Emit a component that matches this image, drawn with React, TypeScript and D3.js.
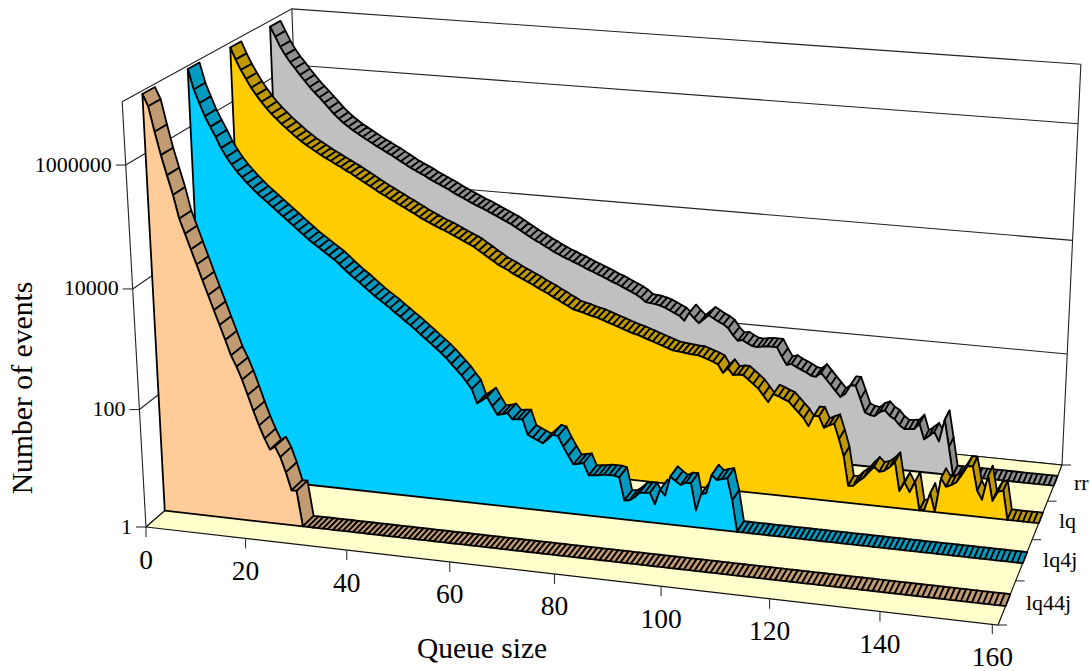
import React from 'react';
import * as d3 from 'd3';

// log10(events), one entry per queue size starting at 0
const lq44jLog = [6.95,6.76,6.36,5.99,5.67,5.36,4.98,4.74,4.49,4.25,4.0,3.76,3.52,3.28,3.04,2.79,2.61,2.4,2.15,1.89,1.65,1.44,1.26,1.32,1.15,.9,.6,.6,0];
const lq4jLog = [6.95,6.62,6.40,6.19,6.02,5.86,5.68,5.54,5.42,5.31,5.22,5.13,5.05,4.97,4.90,4.83,4.76,4.69,4.62,4.55,4.48,4.41,4.34,4.27,4.21,4.15,4.09,4.03,3.97,3.90,3.82,3.75,3.68,3.62,3.55,3.48,3.41,3.35,3.29,3.23,3.16,3.10,3.03,2.97,2.90,2.83,2.76,2.69,2.62,2.55,2.47,2.38,2.29,2.20,2.09,1.98,1.74,1.80,1.87,1.72,1.58,1.60,1.63,1.53,1.54,1.55,1.29,1.25,1.21,1.17,1.25,1.34,1.32,1.15,1.0,.86,.88,.9,.7,.71,.72,.74,.74,.74,.72,.33,.34,.4,.49,.5,.51,.32,.58,.49,.83,.76,.7,.75,.75,.29,.58,.61,.93,.85,.88,.9,.53,0];
const lqLog = [6.92,6.72,6.55,6.40,6.26,6.14,6.03,5.93,5.84,5.76,5.68,5.61,5.54,5.47,5.41,5.35,5.30,5.25,5.20,5.15,5.11,5.06,5.02,4.97,4.93,4.88,4.83,4.78,4.73,4.68,4.63,4.59,4.54,4.50,4.45,4.41,4.36,4.32,4.27,4.23,4.19,4.15,4.11,4.08,4.04,4.00,3.96,3.92,3.88,3.84,3.78,3.73,3.67,3.62,3.56,3.52,3.48,3.43,3.39,3.35,3.31,3.27,3.22,3.18,3.14,3.09,3.05,3.00,2.96,2.91,2.89,2.87,2.84,2.82,2.80,2.77,2.74,2.71,2.68,2.65,2.62,2.59,2.57,2.54,2.51,2.48,2.45,2.42,2.39,2.36,2.35,2.34,2.33,2.32,2.32,2.29,2.26,2.23,2.19,2.05,2.14,2.03,2.05,2.05,1.98,1.91,1.84,1.73,1.62,1.77,1.74,1.70,1.67,1.58,1.49,1.40,1.27,1.46,1.46,1.27,1.32,1.36,1.1,.81,.3,.31,.4,.47,.58,.68,.6,.63,.7,.8,.3,.46,.3,.49,0,.03,.32,0,.6,.46,.5,.56,.7,.86,.86,.45,.3,.73,.3,.47,.5,0];
const rrLog = [6.90,6.73,6.56,6.42,6.30,6.20,6.09,5.99,5.89,5.80,5.72,5.63,5.54,5.45,5.37,5.30,5.24,5.18,5.13,5.08,5.03,4.98,4.93,4.89,4.84,4.80,4.75,4.70,4.65,4.60,4.56,4.52,4.48,4.43,4.39,4.35,4.31,4.27,4.22,4.18,4.14,4.10,4.06,4.02,3.99,3.95,3.91,3.87,3.83,3.79,3.75,3.70,3.65,3.60,3.55,3.50,3.46,3.41,3.37,3.32,3.28,3.24,3.21,3.17,3.14,3.10,3.06,3.03,2.99,2.96,2.92,2.88,2.85,2.81,2.77,2.73,2.69,2.64,2.57,2.56,2.55,2.53,2.50,2.46,2.42,2.38,2.30,2.45,2.36,2.28,2.36,2.44,2.39,2.34,2.30,2.24,2.12,2.03,2.05,2.00,1.96,1.95,1.97,1.98,1.98,1.98,1.82,1.68,1.71,1.66,1.62,1.58,1.53,1.52,1.60,1.50,1.40,1.30,1.20,1.27,1.43,1.43,1.20,.97,.93,.92,1.0,1.04,.95,.90,.80,.74,.75,.76,.86,.59,.66,.74,.58,.98,.50,0];

const seriesNames = ['lq44j', 'lq4j', 'lq', 'rr'];
const seriesLogs = [lq44jLog, lq4jLog, lqLog, rrLog];
const faceColors = ['#FFCC99', '#00CCFF', '#FFCC00', '#C0C0C0'];
const ribbonColors = ['#C09A70', '#0099BF', '#BF9900', '#8F8F8F'];

const xTicks = [0, 20, 40, 60, 80, 100, 120, 140, 160];
const yTicks = [1, 100, 10000, 1000000];
const wallLevels = [1, 100, 10000, 1000000, 10000000];

const xMax = 161;
const xScale = d3.scaleLinear().domain([0, xMax]).range([0, 1]);
const hScale = d3.scaleLog().domain([1, 1e7]).range([0, 1]);
const zBand = d3.scaleBand().domain(seriesNames).range([0, 1]).paddingInner(0).paddingOuter(0);
const ribbonStart = 0.105;
const ribbonDepth = 0.068;

// box corners on screen, used to fit the perspective
const floorA = [146, 527], floorB = [998, 625], floorC = [1062, 465], floorD = [306, 388];
const topE = [123, 104], topF = [291, 10], topG = [1081, 61];

function fitProjection() {
  const [x0, y0] = floorA, [x1, y1] = floorB, [x2, y2] = floorC, [x3, y3] = floorD;
  const dx1 = x1 - x2, dx2 = x3 - x2, sx = x0 - x1 + x2 - x3;
  const dy1 = y1 - y2, dy2 = y3 - y2, sy = y0 - y1 + y2 - y3;
  const den = dx1 * dy2 - dx2 * dy1;
  const g = (sx * dy2 - dx2 * sy) / den;
  const h = (dx1 * sy - sx * dy1) / den;
  const a = x1 - x0 + g * x1, b = x3 - x0 + h * x3, c = x0;
  const d = y1 - y0 + g * y1, e = y3 - y0 + h * y3, f = y0;

  // height column by least squares on the three top corners
  const rows: number[][] = [];
  const rhs: number[] = [];
  ([[0, 0, topE], [0, 1, topF], [1, 1, topG]] as any[]).forEach(([u, v, p]) => {
    const w0 = g * u + h * v + 1;
    rows.push([1, 0, -p[0]]); rhs.push(p[0] * w0 - (a * u + b * v + c));
    rows.push([0, 1, -p[1]]); rhs.push(p[1] * w0 - (d * u + e * v + f));
  });
  const m = [0, 1, 2].map(i => [0, 1, 2].map(j => d3.sum(rows, r => r[i] * r[j])));
  const n = [0, 1, 2].map(i => d3.sum(rows, (r, k) => r[i] * rhs[k]));
  for (let i = 0; i < 3; i++) {
    for (let j = i + 1; j < 3; j++) {
      const q = m[j][i] / m[i][i];
      for (let k = i; k < 3; k++) m[j][k] -= q * m[i][k];
      n[j] -= q * n[i];
    }
  }
  const s = [0, 0, 0];
  for (let i = 2; i >= 0; i--) {
    let t = n[i];
    for (let k = i + 1; k < 3; k++) t -= m[i][k] * s[k];
    s[i] = t / m[i][i];
  }
  const [p, q, r] = s;
  return (u: number, v: number, t: number): [number, number] => {
    const w = g * u + h * v + 1 + r * t;
    return [(a * u + b * v + c + p * t) / w, (d * u + e * v + f + q * t) / w];
  };
}
const project = fitProjection();

const pt = (x: number, z: number, value: number) => project(xScale(x), z, hScale(value));
const poly = d3.line().curve(d3.curveLinearClosed);
const open = d3.line();

const serif = '"Liberation Serif", "Times New Roman", serif';

function Series({ index }: { index: number }) {
  const logs = seriesLogs[index];
  const z0 = (zBand(seriesNames[index]) as number) + ribbonStart;
  const z1 = z0 + ribbonDepth;
  const values = d3.range(0, xMax + 1).map(i => (i < logs.length ? Math.pow(10, logs[i]) : 1));
  const faceEnd = logs.length - 1;
  const face = [
    pt(0, z0, 1),
    ...values.slice(0, faceEnd + 1).map((v, i) => pt(i, z0, v)),
    pt(faceEnd, z0, 1),
  ];
  return (
    <g>
      {values.slice(0, -1).map((v, i) => (
        <path
          key={i}
          d={poly([pt(i, z0, v), pt(i + 1, z0, values[i + 1]), pt(i + 1, z1, values[i + 1]), pt(i, z1, v)]) as string}
          fill={ribbonColors[index]}
          stroke="#000"
          strokeWidth={1.8}
          strokeLinejoin="round"
        />
      ))}
      <path
        d={poly(face as any) as string}
        fill={faceColors[index]}
        stroke="#000"
        strokeWidth={1.8}
        strokeLinejoin="round"
      />
    </g>
  );
}

export default function App() {
  const wallLines = wallLevels.map(level => [pt(0, 0, level), pt(0, 1, level), pt(xMax, 1, level)]);
  const floor = [pt(0, 0, 1), pt(xMax, 0, 1), pt(xMax, 1, 1), pt(0, 1, 1)];
  const zEdges = d3.range(0, 5).map(i => i / 4);
  return (
    <svg width={1090} height={671} style={{ position: 'absolute', left: 0, top: 0 }} fontFamily={serif}>
      <rect width={1090} height={671} fill="#fff" />
      <g fill="none" stroke="#222" strokeWidth={1.1}>
        {wallLines.map((line, i) => (
          <path key={i} d={open(line as any) as string} />
        ))}
        <path d={open([pt(0, 0, 1), pt(0, 0, 1e7)] as any) as string} />
        <path d={open([pt(0, 1, 1), pt(0, 1, 1e7)] as any) as string} />
        <path d={open([pt(xMax, 1, 1), pt(xMax, 1, 1e7)] as any) as string} />
      </g>
      <path d={poly(floor as any) as string} fill="#FFFFCC" stroke="#111" strokeWidth={1.2} />
      {[3, 2, 1, 0].map(i => (
        <Series key={i} index={i} />
      ))}

      {yTicks.map(t => {
        const [x, y] = pt(0, 0, t);
        return (
          <g key={t}>
            <line x1={x - 10} x2={x} y1={y} y2={y} stroke="#333" strokeWidth={1.1} />
            <text x={x - 14} y={y - 1} fontSize={22} textAnchor="end" dominantBaseline="central">{t}</text>
          </g>
        );
      })}
      {xTicks.map(t => {
        const [x, y] = pt(t, 0, 1);
        return (
          <g key={t}>
            <line x1={x} x2={x} y1={y} y2={y + 10} stroke="#333" strokeWidth={1.1} />
            <text x={x} y={y + 32} fontSize={27.5} textAnchor="middle" dominantBaseline="central">{t}</text>
          </g>
        );
      })}
      {zEdges.map(z => {
        const [x, y] = pt(xMax, z, 1);
        return <line key={z} x1={x} x2={x + 9} y1={y} y2={y} stroke="#333" strokeWidth={1.1} />;
      })}
      {seriesNames.map(name => {
        const [x, y] = pt(xMax, (zBand(name) as number) + zBand.bandwidth() / 2, 1);
        return (
          <text key={name} x={x + 19} y={y} fontSize={22} dominantBaseline="central">{name}</text>
        );
      })}
      <text x={482} y={648} fontSize={29.5} textAnchor="middle" dominantBaseline="central">Queue size</text>
      <text
        transform="translate(22,388) rotate(-90)"
        fontSize={29.7}
        textAnchor="middle"
        dominantBaseline="central"
      >
        Number of events
      </text>
    </svg>
  );
}
